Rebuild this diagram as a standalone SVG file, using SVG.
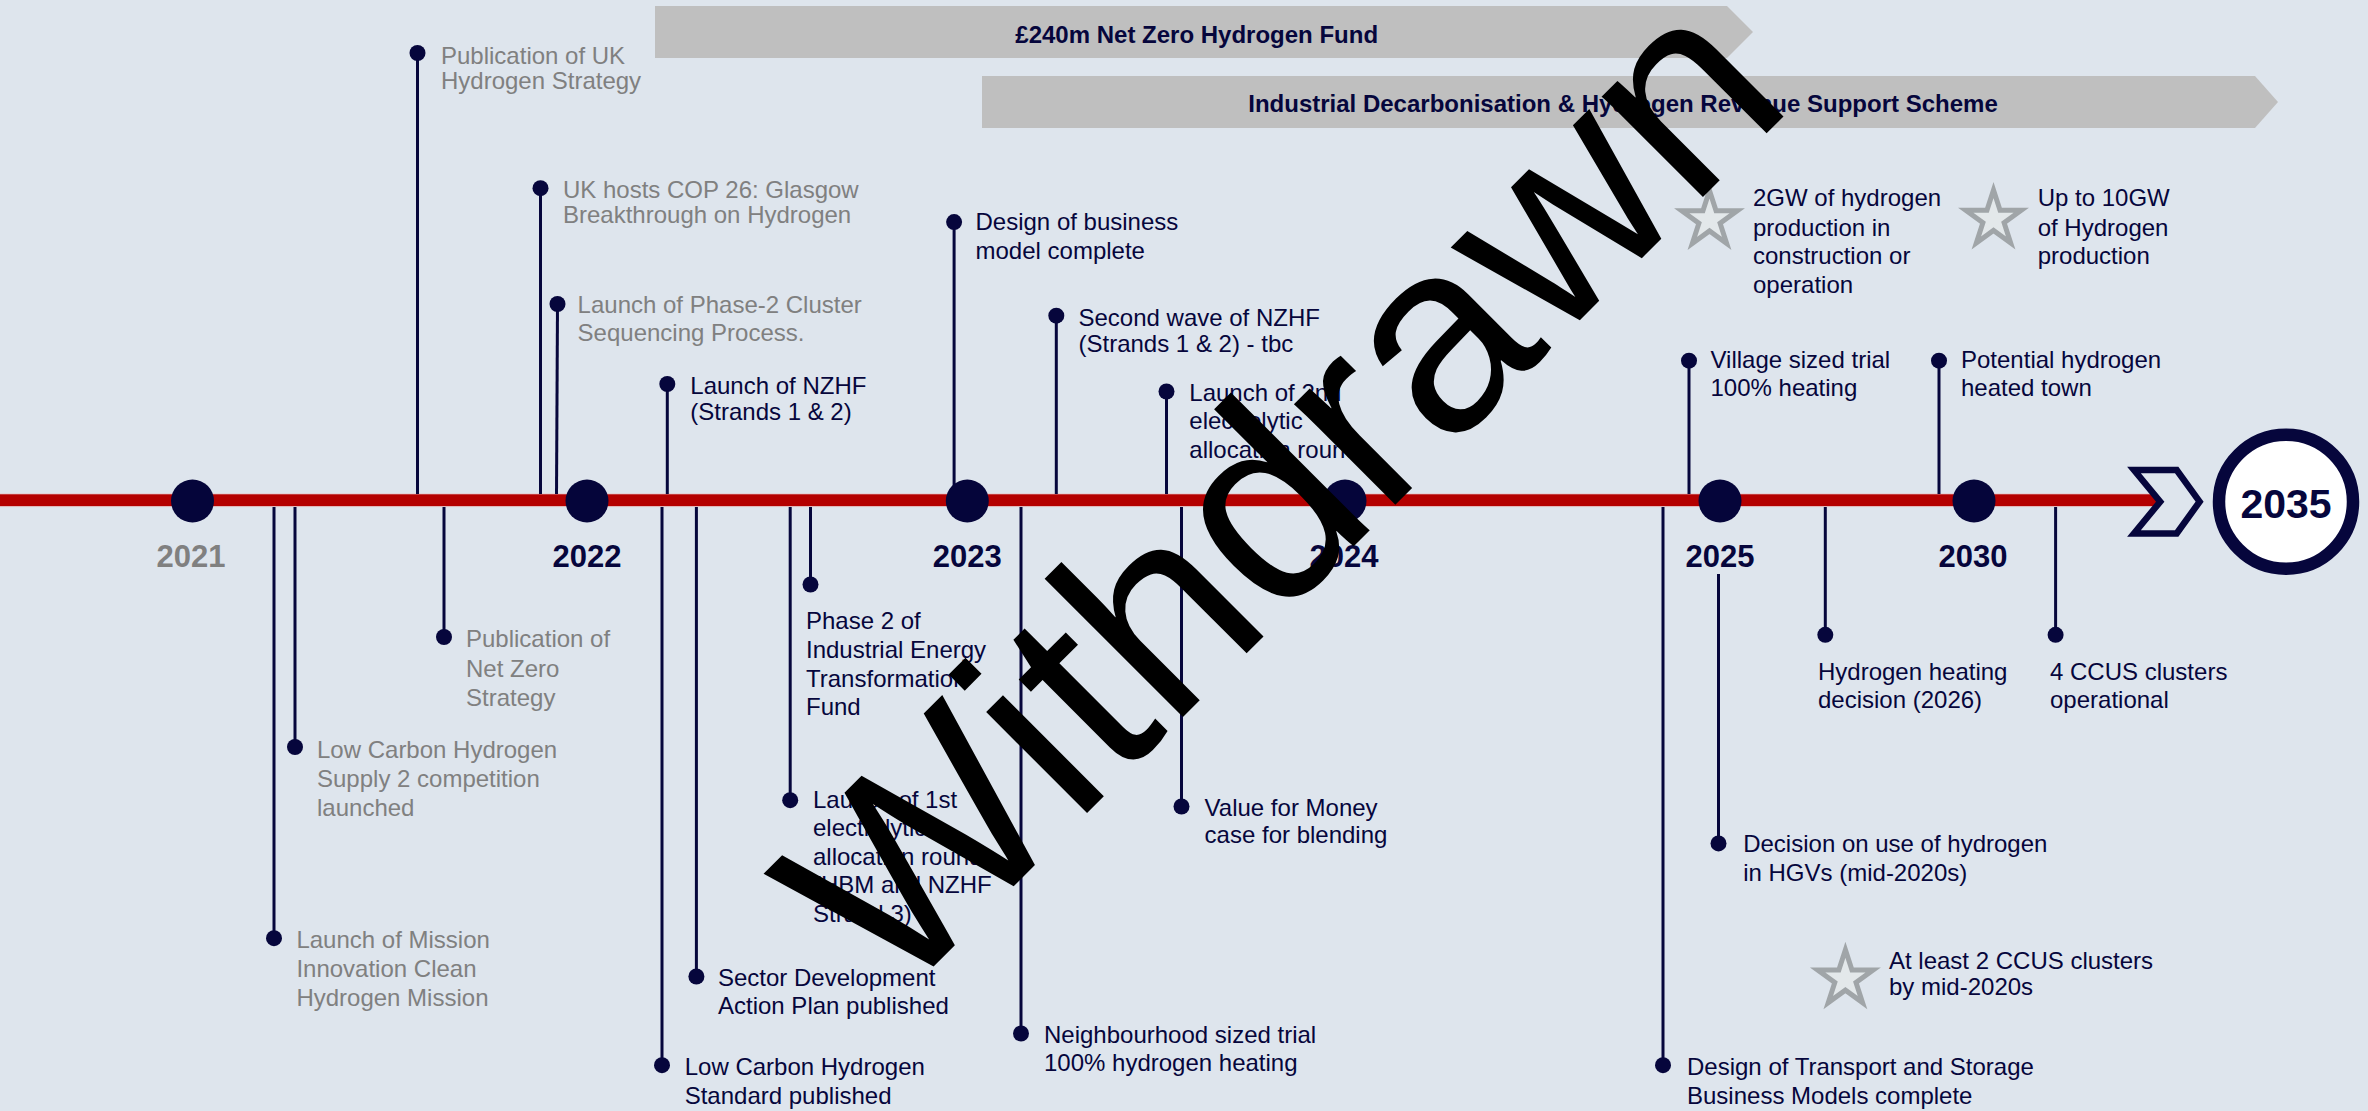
<svg xmlns="http://www.w3.org/2000/svg" xmlns:xlink="http://www.w3.org/1999/xlink" width="2368" height="1111" viewBox="0 0 2368 1111">
  <style>
    .t { font-family: "Liberation Sans", Arial, sans-serif; font-size: 24px; fill: #06063C; }
    .gr { fill: #808080; }
    .yr { font-family: "Liberation Sans", Arial, sans-serif; font-size: 31px; font-weight: bold; fill: #06063C; text-anchor: middle; }
    .bar { fill: #BFBFBF; }
    .bt { font-family: "Liberation Sans", Arial, sans-serif; font-weight: bold; fill: #06063C; text-anchor: middle; }
    .ln { stroke: #06063C; stroke-width: 3; fill: none; }
    .dot { fill: #06063C; }
    .ydot { fill: #05053A; }
    .star { fill: #E3E8EA; stroke: #A0A5A8; stroke-width: 5; stroke-linejoin: miter; }
    .wm { font-family: "Liberation Sans", Arial, sans-serif; font-size: 270px; fill: #000000; text-anchor: middle; }
  </style>
  <defs>
    <path id="star" d="M0,-29.2 L6.55,-9.02 L27.77,-9.02 L10.6,3.45 L17.16,23.62 L0,11.15 L-17.16,23.62 L-10.6,3.45 L-27.77,-9.02 L-6.55,-9.02 Z"/>
  </defs>

  <rect x="0" y="0" width="2368" height="1111" fill="#DEE5ED"/>

  <!-- funding bars -->
  <g id="bar-nzhf">
    <polygon class="bar" points="655,6 1727,6 1753,32 1727,58 655,58"/>
    <text class="bt" x="1196.7" y="42.5" font-size="24">£240m Net Zero Hydrogen Fund</text>
  </g>
  <g id="bar-idhrss">
    <polygon class="bar" points="982,76 2255,76 2278,102 2255,128 982,128"/>
    <text class="bt" x="1623" y="112" font-size="24">Industrial Decarbonisation &amp; Hydrogen Revenue Support Scheme</text>
  </g>

  <!-- timeline axis -->
  <g id="axis">
    <rect x="0" y="493.3" width="2157" height="13.8" fill="#E6CDD0"/>
    <rect x="0" y="494.3" width="2157" height="11.8" fill="#B40000"/>
  </g>

  <!-- connectors -->
  <g id="connectors">
    <line class="ln" x1="417.5" y1="494" x2="417.5" y2="53"/>
    <line class="ln" x1="540.5" y1="494" x2="540.5" y2="188"/>
    <line class="ln" x1="556.5" y1="494" x2="557.5" y2="304"/>
    <line class="ln" x1="667.3" y1="494" x2="667.3" y2="384"/>
    <line class="ln" x1="954.1" y1="494" x2="954.1" y2="222"/>
    <line class="ln" x1="1056.3" y1="494" x2="1056.3" y2="315.7"/>
    <line class="ln" x1="1166.5" y1="494" x2="1166.5" y2="391.5"/>
    <line class="ln" x1="1689" y1="494" x2="1689" y2="360.7"/>
    <line class="ln" x1="1939" y1="494" x2="1939" y2="360.7"/>

    <line class="ln" x1="444" y1="507" x2="444" y2="637"/>
    <line class="ln" x1="295" y1="507" x2="295" y2="747"/>
    <line class="ln" x1="274" y1="507" x2="274" y2="938.2"/>
    <line class="ln" x1="696.4" y1="507" x2="696.4" y2="976.5"/>
    <line class="ln" x1="662" y1="507" x2="662" y2="1065.2"/>
    <line class="ln" x1="810.5" y1="507" x2="810.5" y2="584.5"/>
    <line class="ln" x1="790.2" y1="507" x2="790.2" y2="800.2"/>
    <line class="ln" x1="1021" y1="507" x2="1021" y2="1033.5"/>
    <line class="ln" x1="1181.5" y1="507" x2="1181.5" y2="806.5"/>
    <line class="ln" x1="1825.3" y1="507" x2="1825.3" y2="634.8"/>
    <line class="ln" x1="2055.6" y1="507" x2="2055.6" y2="634.8"/>
    <line class="ln" x1="1718.5" y1="574" x2="1718.5" y2="843.4"/>
    <line class="ln" x1="1663" y1="507" x2="1663" y2="1065.2"/>
  </g>

  <!-- year markers -->
  <g id="year-2021"><circle class="ydot" cx="192.5" cy="501" r="21.5"/><text class="yr" x="191" y="566.5" style="fill:#808080">2021</text></g>
  <g id="year-2022"><circle class="ydot" cx="587" cy="501" r="21.5"/><text class="yr" x="587" y="566.5">2022</text></g>
  <g id="year-2023"><circle class="ydot" cx="967.3" cy="501" r="21.5"/><text class="yr" x="967.3" y="566.5">2023</text></g>
  <g id="year-2024"><circle class="ydot" cx="1345" cy="501" r="21.5"/><text class="yr" x="1344" y="566.5">2024</text></g>
  <g id="year-2025"><circle class="ydot" cx="1720" cy="501" r="21.5"/><text class="yr" x="1720" y="566.5">2025</text></g>
  <g id="year-2030"><circle class="ydot" cx="1974" cy="501" r="21.5"/><text class="yr" x="1973" y="566.5">2030</text></g>

  <g id="chevron">
    <polygon points="2134,470 2176.7,470 2199.6,501.7 2176.7,533.4 2134,533.4 2160.2,501.7" fill="none" stroke="#06063C" stroke-width="6.5" stroke-linejoin="miter"/>
  </g>
  <g id="year-2035">
    <circle cx="2286" cy="501.7" r="67" fill="#FFFFFF" stroke="#06063C" stroke-width="12.5"/>
    <text class="bt" x="2286" y="518" font-size="41">2035</text>
  </g>

  <!-- above-line events -->
  <g id="ev-uk-hydrogen-strategy">
    <circle class="dot" cx="417.5" cy="53" r="8"/>
    <text class="t gr"><tspan x="441" y="63.5">Publication of UK</tspan><tspan x="441" y="89.3">Hydrogen Strategy</tspan></text>
  </g>
  <g id="ev-cop26">
    <circle class="dot" cx="540.5" cy="188.2" r="8"/>
    <text class="t gr"><tspan x="563" y="197.5">UK hosts COP 26: Glasgow</tspan><tspan x="563" y="223.2">Breakthrough on Hydrogen</tspan></text>
  </g>
  <g id="ev-cluster-sequencing">
    <circle class="dot" cx="557.5" cy="304" r="8"/>
    <text class="t gr"><tspan x="577.6" y="313.2">Launch of Phase-2 Cluster</tspan><tspan x="577.6" y="341">Sequencing Process.</tspan></text>
  </g>
  <g id="ev-nzhf-launch">
    <circle class="dot" cx="667.3" cy="384" r="8"/>
    <text class="t"><tspan x="690.3" y="393.6">Launch of NZHF</tspan><tspan x="690.3" y="419.6">(Strands 1 &amp; 2)</tspan></text>
  </g>
  <g id="ev-business-model">
    <circle class="dot" cx="954.1" cy="222.1" r="8"/>
    <text class="t"><tspan x="975.5" y="230.4">Design of business</tspan><tspan x="975.5" y="258.9">model complete</tspan></text>
  </g>
  <g id="ev-nzhf-second-wave">
    <circle class="dot" cx="1056.3" cy="315.7" r="8"/>
    <text class="t"><tspan x="1078.5" y="326">Second wave of NZHF</tspan><tspan x="1078.5" y="351.7">(Strands 1 &amp; 2) - tbc</tspan></text>
  </g>
  <g id="ev-second-allocation">
    <circle class="dot" cx="1166.5" cy="391.5" r="8"/>
    <text class="t"><tspan x="1189.3" y="400.7">Launch of 2nd</tspan><tspan x="1189.3" y="429">electrolytic</tspan><tspan x="1189.3" y="457.8">allocation round</tspan></text>
  </g>
  <g id="ev-village-trial">
    <circle class="dot" cx="1689" cy="360.7" r="8"/>
    <text class="t"><tspan x="1710.5" y="367.9">Village sized trial</tspan><tspan x="1710.5" y="396.4">100% heating</tspan></text>
  </g>
  <g id="ev-heated-town">
    <circle class="dot" cx="1939" cy="360.7" r="8"/>
    <text class="t"><tspan x="1961" y="367.9">Potential hydrogen</tspan><tspan x="1961" y="396.4">heated town</tspan></text>
  </g>

  <!-- stars -->
  <g id="goal-2gw">
    <use xlink:href="#star" href="#star" class="star" x="1709.5" y="219.8"/>
    <text class="t"><tspan x="1753" y="206.4">2GW of hydrogen</tspan><tspan x="1753" y="235.7">production in</tspan><tspan x="1753" y="264.3">construction or</tspan><tspan x="1753" y="292.9">operation</tspan></text>
  </g>
  <g id="goal-10gw">
    <use xlink:href="#star" href="#star" class="star" x="1993.5" y="219.3"/>
    <text class="t"><tspan x="2037.7" y="206.4">Up to 10GW</tspan><tspan x="2037.7" y="235.7">of Hydrogen</tspan><tspan x="2037.7" y="264.3">production</tspan></text>
  </g>
  <g id="goal-ccus">
    <use xlink:href="#star" href="#star" class="star" x="1845.4" y="979"/>
    <text class="t"><tspan x="1889" y="969.3">At least 2 CCUS clusters</tspan><tspan x="1889" y="995.4">by mid-2020s</tspan></text>
  </g>

  <!-- below-line events -->
  <g id="ev-net-zero-strategy">
    <circle class="dot" cx="444" cy="637" r="8"/>
    <text class="t gr"><tspan x="466" y="647.3">Publication of</tspan><tspan x="466" y="677">Net Zero</tspan><tspan x="466" y="705.6">Strategy</tspan></text>
  </g>
  <g id="ev-lchs2">
    <circle class="dot" cx="295" cy="747" r="8"/>
    <text class="t gr"><tspan x="317" y="758.2">Low Carbon Hydrogen</tspan><tspan x="317" y="786.9">Supply 2 competition</tspan><tspan x="317" y="815.5">launched</tspan></text>
  </g>
  <g id="ev-mission-innovation">
    <circle class="dot" cx="274" cy="938.2" r="8"/>
    <text class="t gr"><tspan x="296.4" y="948.2">Launch of Mission</tspan><tspan x="296.4" y="976.8">Innovation Clean</tspan><tspan x="296.4" y="1006.2">Hydrogen Mission</tspan></text>
  </g>
  <g id="ev-sector-plan">
    <circle class="dot" cx="696.4" cy="976.5" r="8"/>
    <text class="t"><tspan x="718" y="985.5">Sector Development</tspan><tspan x="718" y="1014.2">Action Plan published</tspan></text>
  </g>
  <g id="ev-lch-standard">
    <circle class="dot" cx="662" cy="1065.2" r="8"/>
    <text class="t"><tspan x="684.7" y="1074.5">Low Carbon Hydrogen</tspan><tspan x="684.7" y="1103.8">Standard published</tspan></text>
  </g>
  <g id="ev-ietf2">
    <circle class="dot" cx="810.5" cy="584.5" r="8"/>
    <text class="t"><tspan x="806" y="629">Phase 2 of</tspan><tspan x="806" y="658">Industrial Energy</tspan><tspan x="806" y="686.7">Transformation</tspan><tspan x="806" y="715">Fund</tspan></text>
  </g>
  <g id="ev-first-allocation">
    <circle class="dot" cx="790.2" cy="800.2" r="8"/>
    <text class="t"><tspan x="813" y="808">Launch of 1st</tspan><tspan x="813" y="836.2">electrolytic</tspan><tspan x="813" y="864.6">allocation round</tspan><tspan x="813" y="893.4">(HBM and NZHF</tspan><tspan x="813" y="922">Strand 3)</tspan></text>
  </g>
  <g id="ev-neighbourhood-trial">
    <circle class="dot" cx="1021" cy="1033.5" r="8"/>
    <text class="t"><tspan x="1044" y="1042.5">Neighbourhood sized trial</tspan><tspan x="1044" y="1070.6">100% hydrogen heating</tspan></text>
  </g>
  <g id="ev-value-for-money">
    <circle class="dot" cx="1181.5" cy="806.5" r="8"/>
    <text class="t"><tspan x="1204.6" y="815.5">Value for Money</tspan><tspan x="1204.6" y="843.4">case for blending</tspan></text>
  </g>
  <g id="ev-heating-decision">
    <circle class="dot" cx="1825.3" cy="634.8" r="8"/>
    <text class="t"><tspan x="1818" y="679.9">Hydrogen heating</tspan><tspan x="1818" y="708.1">decision (2026)</tspan></text>
  </g>
  <g id="ev-ccus-operational">
    <circle class="dot" cx="2055.6" cy="634.8" r="8"/>
    <text class="t"><tspan x="2050" y="679.9">4 CCUS clusters</tspan><tspan x="2050" y="708.1">operational</tspan></text>
  </g>
  <g id="ev-hgv-decision">
    <circle class="dot" cx="1718.5" cy="843.4" r="8"/>
    <text class="t"><tspan x="1743.2" y="852.3">Decision on use of hydrogen</tspan><tspan x="1743.2" y="881">in HGVs (mid-2020s)</tspan></text>
  </g>
  <g id="ev-ts-business-models">
    <circle class="dot" cx="1663" cy="1065.2" r="8"/>
    <text class="t"><tspan x="1687" y="1074.5">Design of Transport and Storage</tspan><tspan x="1687" y="1103.8">Business Models complete</tspan></text>
  </g>

  <!-- watermark -->
  <g id="watermark">
    <text class="wm" x="1345" y="555" transform="rotate(-45 1345 555)">Withdrawn</text>
  </g>
</svg>
